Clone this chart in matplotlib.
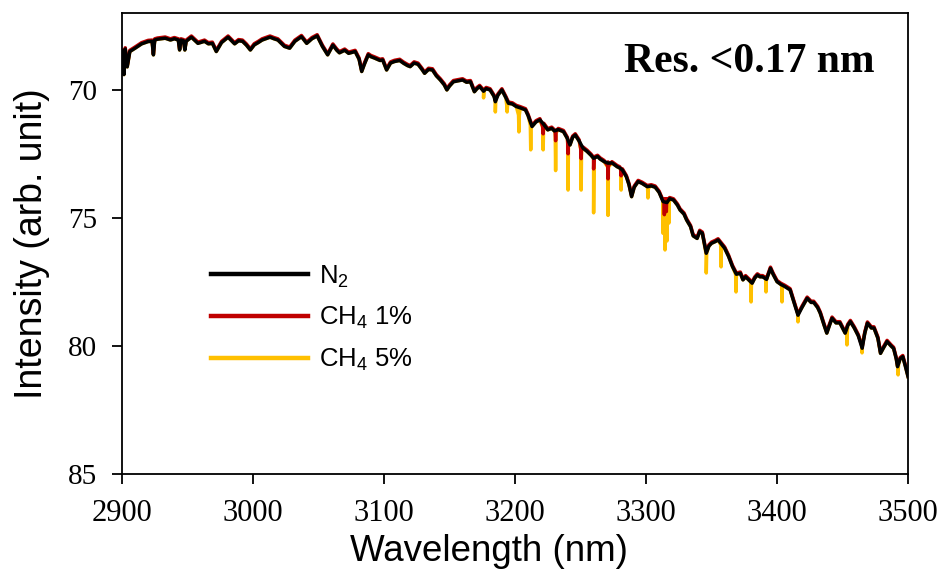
import numpy as np
import matplotlib
matplotlib.use("Agg")
import matplotlib.pyplot as plt
from matplotlib.transforms import offset_copy

plt.rcParams['font.family'] = ['Liberation Sans', 'DejaVu Sans']
plt.rcParams['mathtext.fontset'] = 'custom'
plt.rcParams['mathtext.rm'] = 'Liberation Sans'
plt.rcParams['mathtext.it'] = 'Liberation Sans:italic'

# N2 spectrum (wavelength in nm, intensity in arb. unit)
wavelength = [
    2900.5, 2901.5, 2902.5, 2904, 2906, 2910, 2915, 2920, 2923, 2924, 2925, 2927,
    2933, 2937, 2940, 2943, 2944, 2945, 2947, 2948, 2949, 2953, 2958, 2963, 2966,
    2969, 2972, 2976, 2981, 2986, 2989, 2992, 2995, 2998, 3001, 3004, 3007, 3013,
    3016, 3019, 3022, 3024, 3028, 3032, 3037, 3041, 3045, 3049, 3053, 3057, 3061,
    3064, 3066, 3070, 3073, 3078, 3081, 3083, 3085, 3088, 3090, 3093, 3097, 3099,
    3102, 3105, 3108, 3112, 3115, 3118, 3120, 3123, 3126, 3129, 3131, 3134, 3137,
    3140, 3143, 3146, 3148, 3150, 3153, 3156, 3160, 3163, 3166, 3169, 3171, 3173,
    3176, 3178, 3181, 3184, 3185, 3187, 3190, 3193, 3195, 3198, 3201, 3204, 3208,
    3210, 3213, 3216, 3219, 3222, 3225, 3228, 3230, 3233, 3237, 3240, 3242, 3244,
    3246, 3249, 3252, 3255, 3258, 3260, 3263, 3265, 3268, 3271, 3274, 3278, 3280,
    3282, 3285, 3287, 3289, 3291, 3294, 3297, 3301, 3304, 3307, 3310, 3313, 3316,
    3318, 3321, 3324, 3326, 3329, 3331, 3334, 3336, 3339, 3341, 3343, 3346, 3348,
    3350, 3353, 3355, 3358, 3360, 3363, 3366, 3369, 3372, 3374, 3376, 3379, 3381,
    3383, 3385, 3387, 3389, 3392, 3395, 3397, 3400, 3403, 3406, 3410, 3413, 3416,
    3419, 3423, 3426, 3428, 3431, 3433, 3436, 3438, 3440, 3442, 3445, 3448, 3450,
    3452, 3454, 3456, 3459, 3462, 3465, 3467, 3469, 3472, 3474, 3477, 3479, 3481,
    3484, 3487, 3489, 3491, 3492, 3494, 3496, 3498, 3500,
]
n2_intensity = [
    68.5, 69.4, 68.4, 69.1, 68.5, 68.37, 68.2, 68.11, 68.1, 68.63, 68.05, 68.02,
    67.98, 68.05, 68.0, 68.05, 68.44, 68.05, 68.08, 68.44, 68.1, 67.94, 68.18, 68.1, 68.2,
    68.18, 68.5, 68.15, 67.94, 68.2, 68.08, 68.1, 68.25, 68.44, 68.24, 68.15, 68.05, 67.94,
    68.0, 68.05, 68.2, 68.3, 68.37, 68.1, 67.92, 68.18, 68.0, 67.89, 68.3, 68.63, 68.25,
    68.45, 68.55, 68.45, 68.57, 68.5, 68.8, 69.28, 69.0, 68.63, 68.7, 68.76, 68.85, 68.83,
    69.22, 68.95, 68.89, 68.85, 68.96, 69.05, 69.09, 68.95, 69.0, 69.2, 69.35, 69.2, 69.22,
    69.45, 69.61, 69.8, 70.0, 69.85, 69.68, 69.65, 69.61, 69.7, 69.68, 70.07, 69.95, 69.87,
    70.05, 69.95, 70.0, 70.25, 70.46, 70.2, 70.0, 70.3, 70.52, 70.55, 70.65, 70.7, 70.78,
    71.0, 71.43, 71.25, 71.17, 71.35, 71.56, 71.5, 71.6, 71.55, 71.63, 71.9, 72.15, 71.85,
    71.76, 72.0, 72.28, 72.4, 72.55, 72.67, 72.6, 72.7, 72.8, 72.86, 72.85, 73.0, 73.05,
    73.13, 73.39, 73.7, 74.17, 73.8, 73.58, 73.65, 73.78, 73.75, 73.8, 74.0, 74.36, 74.4,
    74.25, 74.3, 74.5, 74.69, 74.85, 75.08, 75.34, 75.7, 75.8, 75.53, 75.6, 76.38, 76.1,
    75.99, 75.92, 75.86, 76.05, 76.18, 76.5, 76.9, 77.2, 77.16, 77.42, 77.3, 77.45, 77.55,
    77.35, 77.23, 77.3, 77.3, 77.4, 76.97, 77.2, 77.49, 77.6, 77.68, 77.81, 78.3, 78.8,
    78.5, 78.14, 78.3, 78.3, 78.5, 78.72, 79.2, 79.5, 79.2, 78.92, 79.1, 79.1, 79.3,
    79.5, 79.2, 79.05, 79.3, 79.6, 80.09, 79.5, 79.11, 79.3, 79.3, 79.7, 80.29, 80.1,
    79.83, 80.0, 80.1, 80.5, 80.81, 80.5, 80.42, 80.8, 81.2,
]

# CH4 absorption lines: centre, level at line shoulder, level at line bottom
ch4_1_lines = [3221.5, 3231, 3240.5, 3250.5, 3260, 3271, 3281, 3314, 3315.5]
ch4_1_top = [71.48, 71.68, 72.07, 72.34, 72.66, 73.01, 73.13, 74.3, 74.3]
ch4_1_bottom = [71.76, 72.03, 72.54, 72.73, 73.13, 73.52, 73.4, 74.92, 74.8]

ch4_5_lines = [3176, 3185, 3194, 3203, 3212, 3221.5, 3231, 3240.5, 3250.5, 3260,
               3271, 3281, 3301.5, 3313, 3314.5, 3316, 3317.5, 3346, 3357.3,
               3368.7, 3380.2, 3391.6, 3403.8, 3416, 3453.4, 3464.9, 3492.4]
ch4_5_top = [70.0, 70.3, 70.6, 70.98, 71.37, 71.48, 71.68, 72.07, 72.34, 72.66,
             73.01, 73.13, 73.83, 74.3, 74.3, 74.3, 74.3, 76.37, 76.05,
             77.2, 77.5, 77.3, 77.6, 78.7, 79.4, 79.9, 80.74]
ch4_5_bottom = [70.31, 70.86, 70.86, 71.64, 72.34, 72.34, 73.15, 73.91, 73.91, 74.8,
                74.9, 73.91, 74.22, 75.6, 76.25, 75.9, 75.2, 77.15, 76.91,
                77.89, 78.28, 77.89, 78.28, 79.06, 79.96, 80.27, 81.13]


def with_lines(lines, top, bottom):
    xs = list(wavelength)
    ys = list(n2_intensity)
    for c, t, b in zip(lines, top, bottom):
        xs += [c - 0.3, c, c + 0.3]
        ys += [t, b, t]
    order = np.argsort(xs, kind="stable")
    return np.array(xs)[order], np.array(ys)[order]


fig = plt.figure(figsize=(9.44, 5.71), dpi=100)
ax = fig.add_axes([0.1292, 0.170, 0.8327, 0.807])

x5, y5 = with_lines(ch4_5_lines, ch4_5_top, ch4_5_bottom)
x1, y1 = with_lines(ch4_1_lines, ch4_1_top, ch4_1_bottom)

up = offset_copy(ax.transData, fig=fig, x=0, y=1.2, units='dots')
l5, = ax.plot(x5, y5, color='#FFC000', lw=2.5, zorder=1, label='CH$_4$ 5%')
l1, = ax.plot(x1, y1, color='#C00000', lw=2.5, zorder=2, transform=up, label='CH$_4$ 1%')
l0, = ax.plot(wavelength, n2_intensity, color='black', lw=2.5, zorder=3, label='N$_2$')

ax.set_xlim(2900, 3500)
ax.set_ylim(85, 67)
ax.set_xticks([2900, 3000, 3100, 3200, 3300, 3400, 3500])
ax.set_yticks([70, 75, 80, 85])

for sp in ax.spines.values():
    sp.set_linewidth(1.3)
ax.tick_params(direction='out', length=7, width=1.3)
ax.tick_params(axis='x', pad=11)
ax.tick_params(axis='y', pad=11)
for lab in ax.get_xticklabels():
    lab.set_fontfamily('Liberation Serif')
    lab.set_fontsize(22)
for lab in ax.get_yticklabels():
    lab.set_fontfamily('Liberation Serif')
    lab.set_fontsize(21)

ax.set_xlabel('Wavelength (nm)', fontsize=26.5)
ax.set_ylabel('Intensity (arb. unit)', fontsize=27)
ax.xaxis.set_label_coords(0.467, -0.130)
ax.yaxis.set_label_coords(-0.092, 0.5)

ax.text(0.958, 0.935, 'Res. <0.17 nm', transform=ax.transAxes, ha='right', va='top',
        fontsize=30, fontweight='bold', fontfamily='Liberation Serif')

leg = ax.legend(handles=[l0, l1, l5], loc='upper left', bbox_to_anchor=(0.113, 0.457),
                frameon=False, fontsize=18.5, handlelength=3.8, handletextpad=0.4,
                labelspacing=0.61, borderpad=0, borderaxespad=0)
for h in leg.get_lines():
    h.set_linewidth(3.2)

fig.savefig('out.png', dpi=100)
